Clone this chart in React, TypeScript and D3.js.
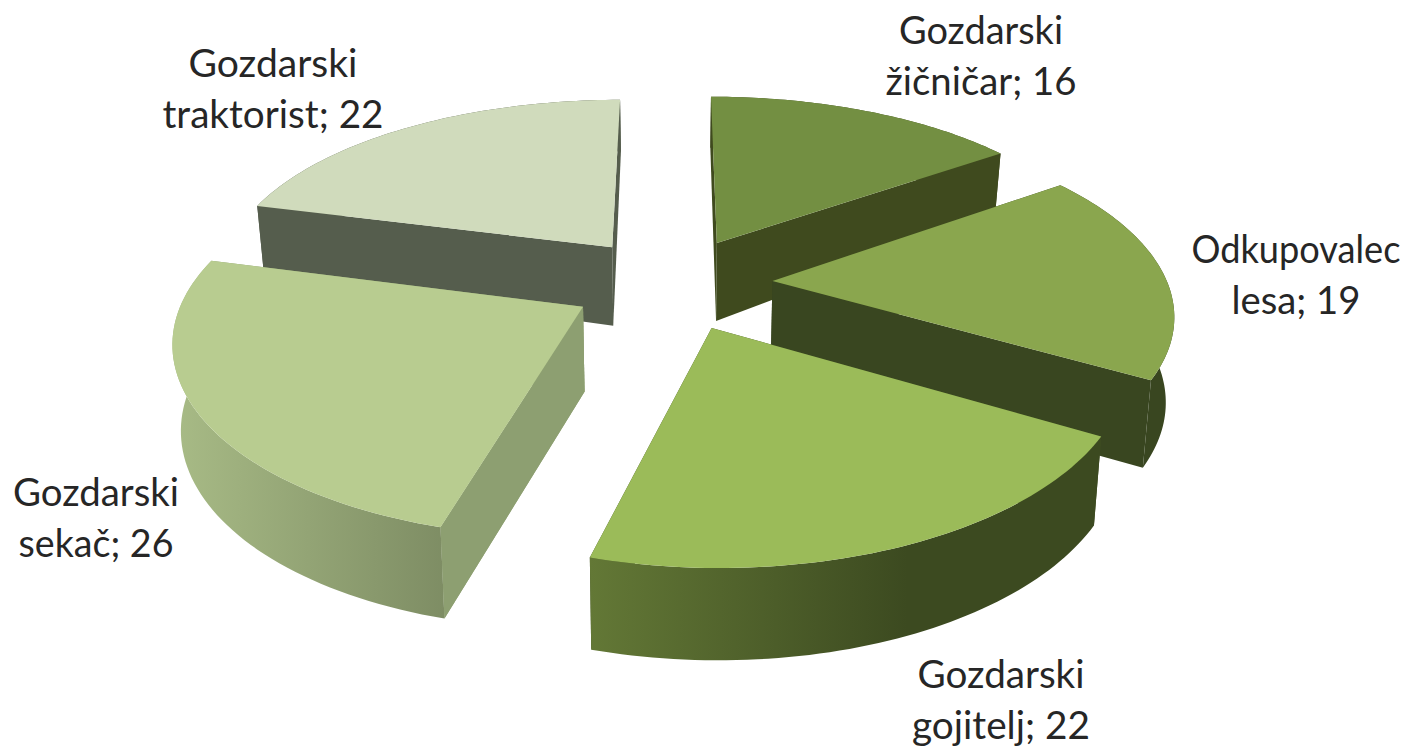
import React from "react";
import * as d3 from "d3";

const labels = [
  ["Gozdarski", "žičničar; 16"],
  ["Odkupovalec", "lesa; 19"],
  ["Gozdarski", "gojitelj; 22"],
  ["Gozdarski", "sekač; 26"],
  ["Gozdarski", "traktorist; 22"],
];
const values = [16, 19, 22, 26, 22];
const topColors = ["#738f42", "#8aa64e", "#9bbb59", "#b8cc90", "#d0dbbc"];
const cutColors = ["#3f4a1e", "#394620", "#3f4d22", "#8d9f71", "#555d4d"];
const wallStops = [
  ["#3f4a1e", "#3f4a1e"],
  ["#394620", "#394620"],
  ["#637836", "#3c4a20"],
  ["#a8bb86", "#7e8d64"],
  ["#555d4d", "#555d4d"],
];
const wallEnd = [1, 1, 0.62, 1, 1];
const labelPos = [
  [981, 31],
  [1296, 250],
  [1001, 675],
  [96, 493],
  [273, 64],
];
const labelWidths = [
  [164, 191],
  [209, 129],
  [167, 178],
  [166, 155],
  [169, 221],
];
const paintOrder = [4, 0, 1, 3, 2];

const CX = 672, CY = 283, RX = 395, RY = 183, P = 0.167, PX = 0.155, EXPLODE = 0.255;

function project(u: number, v: number, z: number): [number, number] {
  const s = 1 / (1 - P * v);
  const sx = 1 / (1 - PX * v);
  const wall = v < 0 ? 84 * (1 + 0.32 * v) : 84 * (1 + 0.08 * v);
  const shrink = 1 - 0.017 * z;
  return [CX + RX * u * sx * shrink, CY + RY * v * s + wall * z];
}

export default function App() {
  const arcs = d3.pie<number>().sort(null)(values);
  return (
    <svg width={1421} height={747} style={{ position: "absolute", left: 0, top: 0, background: "#fff" }}>
      <defs>
        {wallStops.map((c, i) => (
          <linearGradient id={`w${i}`} key={i} x1="0" x2={wallEnd[i]} y1="0" y2="0">
            <stop offset="0" stopColor={c[0]} />
            <stop offset="1" stopColor={c[1]} />
          </linearGradient>
        ))}
      </defs>
      {paintOrder.map((i) => {
        const a = arcs[i];
        const mid = (a.startAngle + a.endAngle) / 2;
        const du = Math.sin(mid) * EXPLODE;
        const dv = -Math.cos(mid) * EXPLODE;
        const angles = d3.range(0, 61).map((k) => a.startAngle + ((a.endAngle - a.startAngle) * k) / 60);
        const rim = (z: number) => angles.map((t) => project(du + Math.sin(t), dv - Math.cos(t), z));
        const apex = (z: number) => project(du, dv, z);
        const line = d3.line();
        const topRim = rim(0);
        const botRim = rim(1);
        const topPoly = [apex(0), ...topRim];
        const wallPoly = [...topRim, ...botRim.slice().reverse()];
        const cutA = [apex(0), topRim[0], botRim[0], apex(1)];
        const cutB = [apex(0), topRim[60], botRim[60], apex(1)];
        const cc = cutColors[i];
        return (
          <g key={i}>
            <path d={line(cutA) + "Z"} fill={cc} />
            <path d={line(cutB) + "Z"} fill={cc} />
            <path d={line(wallPoly) + "Z"} fill={`url(#w${i})`} />
            {i === 3 && <path d={line(cutA) + "Z"} fill={cc} />}
            <path d={line(topPoly) + "Z"} fill={topColors[i]} />
          </g>
        );
      })}
      {labels.map((l, i) => (
        <text key={i} textAnchor="middle" fontFamily="Lato" fontSize={38} fill="#262626">
          <tspan x={labelPos[i][0]} y={labelPos[i][1] + 13} textLength={labelWidths[i][0]} lengthAdjust="spacingAndGlyphs">{l[0]}</tspan>
          <tspan x={labelPos[i][0]} y={labelPos[i][1] + 64} textLength={labelWidths[i][1]} lengthAdjust="spacingAndGlyphs">{l[1]}</tspan>
        </text>
      ))}
    </svg>
  );
}
